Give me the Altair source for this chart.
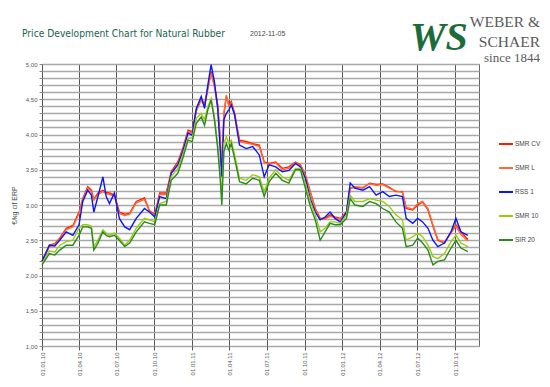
import altair as alt
import pandas as pd

# ---------------- data ----------------
dates = [
    "2010-01-01", "2010-01-19", "2010-02-01", "2010-02-13", "2010-03-01", "2010-03-17", "2010-04-01", "2010-04-10", "2010-04-22", "2010-05-01",
    "2010-05-07", "2010-05-17", "2010-05-29", "2010-06-06", "2010-06-14", "2010-06-26", "2010-07-08", "2010-07-21", "2010-08-02", "2010-08-18",
    "2010-09-07", "2010-09-19", "2010-10-02", "2010-10-14", "2010-10-30", "2010-11-11", "2010-11-27", "2010-12-09", "2010-12-22", "2011-01-01",
    "2011-01-11", "2011-01-23", "2011-01-31", "2011-02-08", "2011-02-16", "2011-02-24", "2011-03-04", "2011-03-10", "2011-03-14", "2011-03-19",
    "2011-03-25", "2011-03-31", "2011-04-06", "2011-04-14", "2011-04-26", "2011-05-12", "2011-05-28", "2011-06-13", "2011-06-25", "2011-07-07",
    "2011-07-23", "2011-08-08", "2011-08-24", "2011-09-09", "2011-09-21", "2011-10-03", "2011-10-15", "2011-10-27", "2011-11-08", "2011-11-20",
    "2011-12-02", "2011-12-14", "2011-12-27", "2012-01-11", "2012-01-20", "2012-01-31", "2012-02-20", "2012-03-07", "2012-03-23", "2012-04-08",
    "2012-04-24", "2012-05-10", "2012-05-26", "2012-06-04", "2012-06-20", "2012-07-02", "2012-07-14", "2012-07-27", "2012-08-08", "2012-08-20",
    "2012-09-05", "2012-09-21", "2012-10-03", "2012-10-15", "2012-11-01",
]

smr_cv = [
    2.20, 2.43, 2.45, 2.53, 2.67, 2.71, 2.90, 3.09, 3.26, 3.21,
    3.08, 3.17, 3.21, 3.18, 3.17, 3.14, 2.90, 2.87, 2.88, 3.05,
    3.10, 2.92, 2.86, 3.17, 3.17, 3.47, 3.61, 3.80, 4.06, 4.04,
    4.35, 4.51, 4.42, 4.66, 4.89, 4.70, 4.42, 3.95, 3.45, 4.28,
    4.54, 4.42, 4.47, 4.30, 3.92, 3.90, 3.87, 3.85, 3.61, 3.59,
    3.61, 3.52, 3.54, 3.61, 3.57, 3.43, 3.19, 2.95, 2.81, 2.81,
    2.86, 2.83, 2.81, 2.90, 3.24, 3.25, 3.24, 3.31, 3.29, 3.30,
    3.25, 3.19, 3.19, 2.95, 2.93, 3.00, 3.04, 2.93, 2.70, 2.50,
    2.46, 2.62, 2.72, 2.62, 2.51,
]

smr_l = [
    2.19, 2.41, 2.44, 2.52, 2.65, 2.69, 2.88, 3.07, 3.24, 3.19,
    3.07, 3.15, 3.19, 3.16, 3.15, 3.12, 2.88, 2.85, 2.87, 3.03,
    3.08, 2.91, 2.85, 3.15, 3.15, 3.45, 3.59, 3.78, 4.04, 4.02,
    4.33, 4.49, 4.40, 4.64, 4.87, 4.68, 4.40, 3.93, 3.46, 4.30,
    4.56, 4.40, 4.45, 4.28, 3.90, 3.88, 3.86, 3.83, 3.60, 3.58,
    3.60, 3.50, 3.52, 3.60, 3.56, 3.42, 3.18, 2.94, 2.80, 2.80,
    2.84, 2.82, 2.80, 2.89, 3.23, 3.26, 3.25, 3.30, 3.28, 3.29,
    3.24, 3.20, 3.18, 2.97, 2.94, 3.02, 3.05, 2.95, 2.72, 2.51,
    2.47, 2.60, 2.70, 2.58, 2.49,
]

rss_1 = [
    2.20, 2.43, 2.42, 2.50, 2.62, 2.57, 2.72, 3.05, 3.21, 3.14,
    2.90, 3.12, 3.40, 3.12, 3.02, 3.17, 2.81, 2.69, 2.65, 2.81,
    2.95, 2.90, 2.83, 3.12, 3.09, 3.45, 3.57, 3.76, 4.02, 3.99,
    4.37, 4.54, 4.37, 4.70, 4.99, 4.75, 4.37, 3.80, 3.40, 4.21,
    4.30, 4.35, 4.42, 4.28, 3.85, 3.80, 3.83, 3.71, 3.40, 3.57,
    3.54, 3.47, 3.49, 3.59, 3.54, 3.38, 3.09, 2.90, 2.79, 2.83,
    2.90, 2.81, 2.76, 2.90, 3.31, 3.24, 3.21, 3.26, 3.14, 3.19,
    3.12, 3.14, 3.12, 2.81, 2.74, 2.81, 2.76, 2.67, 2.50, 2.41,
    2.46, 2.62, 2.81, 2.62, 2.57,
]

smr_10 = [
    2.17, 2.35, 2.33, 2.43, 2.48, 2.50, 2.67, 2.72, 2.72, 2.70,
    2.41, 2.50, 2.65, 2.60, 2.57, 2.60, 2.53, 2.43, 2.50, 2.67,
    2.81, 2.79, 2.76, 3.02, 3.05, 3.40, 3.52, 3.71, 3.95, 3.95,
    4.23, 4.30, 4.21, 4.39, 4.51, 4.25, 3.85, 3.43, 3.14, 3.87,
    3.97, 3.87, 3.92, 3.71, 3.38, 3.35, 3.43, 3.40, 3.19, 3.38,
    3.50, 3.40, 3.35, 3.52, 3.52, 3.31, 3.05, 2.86, 2.62, 2.67,
    2.76, 2.76, 2.74, 2.86, 3.14, 3.05, 3.05, 3.09, 3.07, 3.05,
    2.98, 2.86, 2.79, 2.50, 2.55, 2.60, 2.55, 2.43, 2.27, 2.24,
    2.31, 2.48, 2.57, 2.46, 2.41,
]

sir_20 = [
    2.15, 2.31, 2.29, 2.36, 2.43, 2.43, 2.57, 2.69, 2.69, 2.67,
    2.36, 2.46, 2.62, 2.57, 2.55, 2.57, 2.50, 2.41, 2.46, 2.62,
    2.76, 2.74, 2.72, 3.00, 3.00, 3.35, 3.45, 3.66, 3.92, 3.90,
    4.16, 4.25, 4.13, 4.35, 4.49, 4.21, 3.80, 3.38, 3.00, 3.76,
    3.87, 3.78, 3.87, 3.66, 3.33, 3.30, 3.38, 3.35, 3.12, 3.33,
    3.45, 3.35, 3.31, 3.50, 3.50, 3.24, 2.98, 2.79, 2.50, 2.62,
    2.74, 2.72, 2.72, 2.81, 3.09, 3.00, 2.98, 3.05, 3.02, 2.95,
    2.90, 2.76, 2.67, 2.41, 2.43, 2.53, 2.46, 2.36, 2.15, 2.20,
    2.22, 2.39, 2.50, 2.39, 2.34,
]

series_names = ["SMR CV", "SMR L", "RSS 1", "SMR 10", "SIR 20"]
series_values = [smr_cv, smr_l, rss_1, smr_10, sir_20]
series_colors = ["#ff1a00", "#ff6a33", "#0a14ff", "#99cc11", "#2a8a1e"]

quarter_ticks = [(2010, 1), (2010, 4), (2010, 7), (2010, 10),
                 (2011, 1), (2011, 4), (2011, 7), (2011, 10),
                 (2012, 1), (2012, 4), (2012, 7), (2012, 10)]
y_ticks = [round(1.0 + 0.1 * i, 1) for i in range(41)]

title_text = "Price Development Chart for Natural Rubber"
date_text = "2012-11-05"
y_title = "€/kg cif ERP"

# ---------------- table ----------------
rows = []
for name, vals in zip(series_names, series_values):
    for d, v in zip(dates, vals):
        rows.append({"date": d + "T00:00:00", "value": v, "series": name})
df = pd.DataFrame(rows)

W, H = 437, 282
AXIS_FONT = "Liberation Sans"
NARROW = "'Liberation Sans Narrow', 'DejaVu Sans Condensed', 'Roboto', sans-serif"

x_enc = alt.X(
    "date:T",
    scale=alt.Scale(domain=[alt.DateTime(year=2010, month=1, date=1),
                            alt.DateTime(year=2012, month=11, date=28)]),
    axis=alt.Axis(
        values=[alt.DateTime(year=y, month=m, date=1) for y, m in quarter_ticks],
        format="%d.%m.%y", labelAngle=270, labelFontSize=6, labelColor="#555",
        labelFont=AXIS_FONT, grid=True, gridColor="#555", gridWidth=1,
        tickSize=4, tickColor="#555", domain=False, labelPadding=2,
        title=None, labelOverlap=False,
    ),
)
y_enc = alt.Y(
    "value:Q",
    scale=alt.Scale(domain=[1, 5], nice=False, zero=False),
    axis=alt.Axis(
        values=y_ticks,
        labelExpr="abs(datum.value*2 - round(datum.value*2)) < 0.001 ? replace(format(datum.value, '.2f'), '.', ',') : ''",
        labelFontSize=6, labelColor="#555", labelFont=AXIS_FONT,
        grid=True, gridColor="#a8a8a8", gridWidth=1.3,
        tickSize=3, tickColor="#888", domain=False, labelPadding=2,
        title=y_title, titleFontSize=7, titleFont=AXIS_FONT, titleColor="#444",
        titleFontWeight="normal", titlePadding=8, labelOverlap=False,
    ),
)
color_enc = alt.Color(
    "series:N",
    scale=alt.Scale(domain=series_names, range=series_colors),
    legend=alt.Legend(title=None),
)

base = alt.Chart(df)
lines = [
    base.transform_filter(alt.datum.series == name)
    .mark_line(strokeWidth=1.4)
    .encode(x=x_enc, y=y_enc, color=color_enc)
    for name in series_names
]

def text_layer(txt, x, y, **kw):
    return alt.Chart(pd.DataFrame({"t": [txt]})).mark_text(**kw).encode(
        x=alt.value(x), y=alt.value(y), text="t:N"
    )

title_l = text_layer(title_text, -20, -27, align="left", baseline="alphabetic",
                     font=NARROW, fontSize=10.2, color="#1b6450")
date_l = text_layer(date_text, 208, -28, align="left", baseline="alphabetic",
                    font=AXIS_FONT, fontSize=7, color="#444")
logo_ws = text_layer("WS", 368, -14, align="left", baseline="alphabetic",
                     font="Liberation Serif", fontSize=40, fontWeight="bold",
                     fontStyle="italic", color="#1c6b3a")
logo_1 = text_layer("WEBER &", 498, -37, align="right", baseline="alphabetic",
                    font="Liberation Serif", fontSize=15.5, color="#5a5a5a")
logo_2 = text_layer("SCHAER", 498, -17, align="right", baseline="alphabetic",
                    font="Liberation Serif", fontSize=15.5, color="#5a5a5a")
logo_3 = text_layer("since 1844", 498, -2, align="right", baseline="alphabetic",
                    font="Liberation Serif", fontSize=13, color="#5a5a5a")

chart = (
    alt.layer(*lines, title_l, date_l, logo_ws, logo_1, logo_2, logo_3)
    .properties(
        width=W, height=H,
        autosize=alt.AutoSizeParams(type="none"),
        padding={"left": 34, "top": 56, "right": 63, "bottom": 33},
        background="white",
    )
    .configure_view(stroke="#666", strokeWidth=1)
    .configure_legend(
        orient="none", legendX=456, legendY=72,
        symbolType="stroke", symbolStrokeWidth=2, symbolSize=196,
        labelFontSize=6.5, labelFont=AXIS_FONT, labelColor="#444",
        rowPadding=12, labelOffset=1,
    )
)

chart.save("out.html", embed_options={"renderer": "svg", "actions": False})
